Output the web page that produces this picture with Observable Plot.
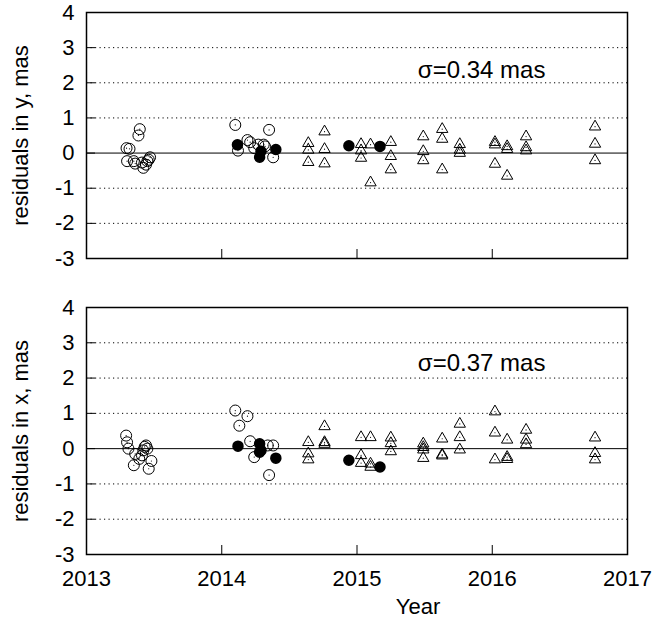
<!DOCTYPE html>
<html><head><meta charset="utf-8">
<script src="https://cdn.jsdelivr.net/npm/d3@7"></script>
<script src="https://cdn.jsdelivr.net/npm/@observablehq/plot@0.6"></script>
<style>
body{margin:0;background:#fff;}
#chart svg{display:block;}
</style></head><body><div id="chart"></div>
<script>
// ---- ticks / labels ----
const yTicks = [4,3,2,1,0,-1,-2,-3];
const gridLevels = [3,2,1,-1,-2];
const xTicks = [2013,2014,2015,2016,2017];
const xLabel = "Year";
const yLabelTop = "residuals in y, mas";
const yLabelBottom = "residuals in x, mas";
const sigmaTop = "σ=0.34 mas";
const sigmaBottom = "σ=0.37 mas";

// ---- residuals in y (top panel) ----
const yOpenT = [2013.394,2013.384,2013.296,2013.318,2013.30,2013.35,2013.36,2013.42,2013.45,2013.47,2013.46,2013.44,2013.41,
                2014.10,2014.12,2014.19,2014.21,2014.24,2014.27,2014.31,2014.32,2014.35,2014.38];
const yOpenV = [0.68,0.50,0.14,0.12,-0.23,-0.23,-0.30,-0.42,-0.23,-0.12,-0.19,-0.33,-0.27,
                0.80,0.07,0.37,0.31,0.14,0.24,0.24,0.19,0.66,-0.12];
const yFilledT = [2014.116,2014.29,2014.28,2014.40,2014.94,2015.17];
const yFilledV = [0.235,0.05,-0.12,0.10,0.21,0.19];
const yTriT = [2014.64,2014.64,2014.64,2014.76,2014.76,2014.76,2015.03,2015.03,2015.03,2015.10,2015.10,
               2015.25,2015.25,2015.25,2015.49,2015.49,2015.49,2015.63,2015.63,2015.63,2015.76,2015.76,2015.76,
               2016.02,2016.02,2016.02,2016.11,2016.11,2016.11,2016.25,2016.25,2016.25,2016.76,2016.76,2016.76];
const yTriV = [0.28,0.09,-0.26,0.61,0.11,-0.30,0.25,0.07,-0.14,0.24,-0.84,
               0.31,-0.09,-0.47,0.47,0.05,-0.21,0.68,0.40,-0.47,0.25,0.09,0.0,
               0.31,0.24,-0.31,0.19,0.11,-0.65,0.47,0.16,0.07,0.75,0.26,-0.21];

// ---- residuals in x (bottom panel) ----
const xOpenT = [2013.293,2013.30,2013.31,2013.35,2013.36,2013.39,2013.41,2013.42,2013.44,2013.45,2013.46,2013.48,2013.43,
                2014.10,2014.13,2014.19,2014.21,2014.24,2014.34,2014.38,2014.35];
const xOpenV = [0.37,0.18,0.0,-0.47,-0.15,-0.29,-0.19,-0.05,0.09,0.0,-0.57,-0.35,0.05,
                1.08,0.65,0.92,0.21,-0.24,0.09,0.09,-0.75];
const xFilledT = [2014.12,2014.28,2014.29,2014.28,2014.40,2014.94,2015.17];
const xFilledV = [0.07,0.14,-0.05,-0.10,-0.27,-0.33,-0.52];
const xTriT = [2014.64,2014.64,2014.64,2014.76,2014.76,2014.76,2015.03,2015.03,2015.03,2015.10,2015.10,2015.10,
               2015.25,2015.25,2015.25,2015.49,2015.49,2015.49,2015.49,2015.63,2015.63,2015.63,2015.76,2015.76,2015.76,
               2016.02,2016.02,2016.02,2016.11,2016.11,2016.11,2016.25,2016.25,2016.25,2016.76,2016.76,2016.76];
const xTriV = [0.18,-0.14,-0.31,0.63,0.18,0.13,0.32,-0.19,-0.41,0.32,-0.43,-0.52,
               0.31,0.15,-0.08,0.14,0.04,-0.03,-0.27,0.28,-0.17,-0.20,0.70,0.32,-0.03,
               1.05,0.45,-0.31,0.25,-0.24,-0.30,0.53,0.25,0.12,0.31,-0.13,-0.31];

const pts = (T, V) => T.map((t, i) => ({t, v: V[i]}));
const FONT = "'Liberation Sans', Arial, Helvetica, sans-serif";
const W = 658, ML = 86, MR = 31;

function panel({openT, openV, filledT, filledV, triT, triV, sigma, sigmaY, ylabel, height, mt, mb, showX}) {
  const plotH = height - mt - mb, plotW = W - ML - MR;
  const open = pts(openT, openV), filled = pts(filledT, filledV), tri = pts(triT, triV);
  const marks = [
    Plot.ruleY(gridLevels, {y: d => d, stroke: "#000", strokeWidth: 1, strokeDasharray: "1.2,3.3"}),
    Plot.ruleY([0], {y: d => d, stroke: "#000", strokeWidth: 1}),
    Plot.tickX(xTicks, {x: d => d, insetTop: plotH - 9, stroke: "#000", strokeWidth: 1}),
    Plot.tickY(yTicks, {y: d => d, insetRight: plotW - 9, stroke: "#000", strokeWidth: 1}),
    Plot.axisY(yTicks, {tickSize: 0, tickPadding: 12, tickFormat: d => String(d), fontSize: 22, label: null}),
    Plot.dot(open, {x: "t", y: "v", r: 5.5, stroke: "#000", strokeWidth: 1, fill: "none"}),
    Plot.dot(open, {x: "t", y: "v", r: 0.6, fill: "#000"}),
    Plot.dot(tri, {x: "t", y: "v", symbol: "triangle", r: 4.2, stroke: "#000", strokeWidth: 1, fill: "none"}),
    Plot.dot(tri, {x: "t", y: "v", r: 0.6, fill: "#000"}),
    Plot.dot(filled, {x: "t", y: "v", r: 5, fill: "#000", stroke: "#000"}),
    Plot.text([sigma], {x: () => 2015.45, y: () => sigmaY, text: d => d, textAnchor: "start", fontSize: 24, fill: "#000"}),
    Plot.text([ylabel], {frameAnchor: "left", rotate: -90, dx: -66, textAnchor: "middle", text: d => d, fontSize: 22, fill: "#000"}),
    Plot.frame({stroke: "#000", strokeWidth: 1.5})
  ];
  if (showX) {
    marks.push(Plot.axisX(xTicks, {tickSize: 0, tickPadding: 16, tickFormat: d => String(d), fontSize: 22, label: null}));
    marks.push(Plot.text([xLabel], {frameAnchor: "bottom", dx: 61, dy: 52, lineAnchor: "middle", text: d => d, fontSize: 22, fill: "#000"}));
  }
  return Plot.plot({
    width: W, height,
    marginLeft: ML, marginRight: MR, marginTop: mt, marginBottom: mb,
    x: {domain: [2013, 2017], axis: null},
    y: {domain: [-3, 4], axis: null},
    style: {fontFamily: FONT, fontSize: "22px", color: "#000", background: "#fff", overflow: "visible"},
    marks
  });
}

const chart = document.getElementById("chart");
chart.append(panel({openT: yOpenT, openV: yOpenV, filledT: yFilledT, filledV: yFilledV, triT: yTriT, triV: yTriV,
  sigma: sigmaTop, sigmaY: 2.35, ylabel: yLabelTop, height: 283, mt: 12, mb: 25, showX: false}));
chart.append(panel({openT: xOpenT, openV: xOpenV, filledT: xFilledT, filledV: xFilledV, triT: xTriT, triV: xTriV,
  sigma: sigmaBottom, sigmaY: 2.42, ylabel: yLabelBottom, height: 340, mt: 24, mb: 69, showX: true}));
</script></body></html>
